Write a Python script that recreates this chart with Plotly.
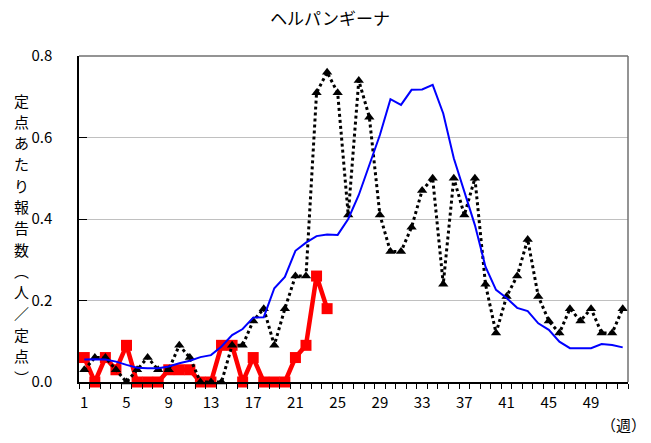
import plotly.graph_objects as go

weeks = list(range(1, 53))

# 今年 (current year), weeks 1-24
cur_weeks = list(range(1, 25))
cur_vals = [0.06, 0.0, 0.06, 0.03, 0.09, 0.0, 0.0, 0.0, 0.03, 0.03, 0.03, 0.0,
            0.0, 0.09, 0.09, 0.0, 0.06, 0.0, 0.0, 0.0, 0.06, 0.09, 0.26, 0.18]

# 昨年 (last year)
last_vals = [0.03, 0.06, 0.06, 0.03, 0.0, 0.03, 0.06, 0.03, 0.03, 0.09, 0.06, 0.0,
             0.0, 0.0, 0.09, 0.09, 0.15, 0.18, 0.09, 0.18, 0.26, 0.26, 0.71, 0.76,
             0.71, 0.41, 0.74, 0.65, 0.41, 0.32, 0.32, 0.38, 0.47, 0.50, 0.24, 0.50,
             0.41, 0.50, 0.24, 0.12, 0.21, 0.26, 0.35, 0.21, 0.15, 0.12, 0.18, 0.15,
             0.18, 0.12, 0.12, 0.18]

# 過去5年平均 (5-year average)
avg_vals = [0.055, 0.056, 0.055, 0.050, 0.042, 0.035, 0.034, 0.034, 0.038, 0.046,
            0.052, 0.061, 0.066, 0.087, 0.115, 0.130, 0.158, 0.159, 0.230, 0.258,
            0.322, 0.342, 0.358, 0.362, 0.361, 0.400, 0.459, 0.532, 0.606, 0.694,
            0.680, 0.717, 0.718, 0.729, 0.659, 0.549, 0.467, 0.385, 0.283, 0.226,
            0.206, 0.182, 0.174, 0.144, 0.128, 0.099, 0.083, 0.083, 0.083, 0.093,
            0.091, 0.085]

x_tick_vals = list(range(1, 53, 4))
x_tick_text = [str(v) for v in x_tick_vals]
y_tick_vals = [0.0, 0.2, 0.4, 0.6, 0.8]
y_tick_text = ["0.0", "0.2", "0.4", "0.6", "0.8"]

title_text = "ヘルパンギーナ"
y_title = "定点あたり報告数︵人／定点︶"
x_unit = "（週）"

FONT = "Noto Sans CJK JP, Noto Sans, sans-serif"

fig = go.Figure()
fig.add_trace(go.Scatter(
    x=cur_weeks, y=cur_vals, mode="lines+markers",
    line=dict(color="#FF0000", width=4.5),
    marker=dict(symbol="square", size=11, color="#FF0000"),
    showlegend=False, cliponaxis=False))
fig.add_trace(go.Scatter(
    x=weeks, y=last_vals, mode="lines+markers",
    line=dict(color="#000000", width=3, dash="dot"),
    marker=dict(symbol="triangle-up", size=9, color="#000000"),
    showlegend=False, cliponaxis=False))
fig.add_trace(go.Scatter(
    x=weeks, y=avg_vals, mode="lines",
    line=dict(color="#0000FF", width=2),
    showlegend=False))

fig.update_layout(
    width=651, height=443,
    margin=dict(l=79, r=23, t=56, b=61, autoexpand=False),
    paper_bgcolor="white", plot_bgcolor="white",
    font=dict(family=FONT, color="#000000", size=14),
    title=dict(text=title_text, x=0.507, xref="container", xanchor="center",
               y=0.958, yref="container", yanchor="middle",
               font=dict(size=17, family=FONT)),
)

fig.update_xaxes(
    range=[0.5, 52.5], tickmode="array", tickvals=x_tick_vals, ticktext=x_tick_text,
    ticks="", showgrid=False, zeroline=False, automargin=False,
    showline=True, linecolor="#000000", linewidth=1.5,
    ticklabelstandoff=6,
    tickfont=dict(size=15, family=FONT),
    minor=dict(tick0=0.5, dtick=1, ticks="outside", ticklen=5,
               tickcolor="#000000", tickwidth=1, showgrid=False),
)
fig.update_yaxes(
    range=[0, 0.8], tickmode="array", tickvals=y_tick_vals, ticktext=y_tick_text,
    ticks="inside", ticklen=8, tickcolor="#000000", automargin=False,
    showgrid=True, gridcolor="#C0C0C0", gridwidth=1, zeroline=False,
    showline=True, linecolor="#000000", linewidth=1.5,
    ticklabelstandoff=22,
    tickfont=dict(size=15, family=FONT),
)

# frame top / right
fig.add_shape(type="line", xref="paper", yref="paper", x0=0, x1=1, y0=1, y1=1,
              line=dict(color="#707070", width=1.5))
fig.add_shape(type="line", xref="paper", yref="paper", x0=1, x1=1, y0=0, y1=1,
              line=dict(color="#707070", width=1.5))

# vertical y title, one character per annotation
chars = list(y_title)
top_px, bot_px = 100.0, 377.0
step = (bot_px - top_px) / (len(chars) - 1)
for i, ch in enumerate(chars):
    ypix = top_px + i * step
    fig.add_annotation(
        text=ch, xref="paper", yref="paper",
        x=(21 - 79) / 549, y=(382 - ypix) / 326,
        xanchor="center", yanchor="middle", showarrow=False,
        font=dict(size=15, family=FONT))

fig.add_annotation(
    text=x_unit, xref="paper", yref="paper",
    x=(648 - 79) / 549, y=(382 - 425) / 326, xanchor="right", yanchor="middle",
    showarrow=False, font=dict(size=15, family=FONT))

fig.write_html("out.html",
               config={"displayModeBar": False},
               post_script="document.body.style.margin='0';document.body.style.padding='0';")
